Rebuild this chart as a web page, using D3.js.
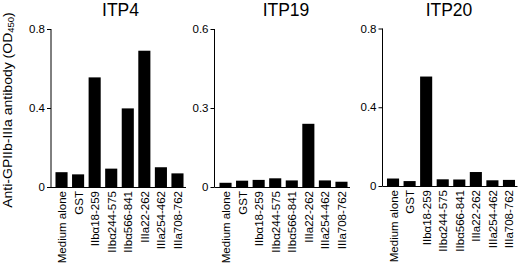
<!DOCTYPE html>
<html><head><meta charset="utf-8">
<script src="https://cdn.jsdelivr.net/npm/d3@7/dist/d3.min.js"></script>
<style>body{margin:0;background:#fff}svg{display:block}text{font-family:"Liberation Sans",Arial,sans-serif}</style>
</head><body>
<svg id="c" width="520" height="264"></svg>
<script>
const categories = ["Medium alone","GST","IIb\u03b118-259","IIb\u03b1244-575","IIb\u03b1566-841","IIIa22-262","IIIa254-462","IIIa708-762"];
const titles = ["ITP4","ITP19","ITP20"];
const itp4 = [0.075,0.064,0.555,0.093,0.398,0.69,0.10,0.069];
const itp19 = [0.016,0.024,0.027,0.033,0.025,0.24,0.025,0.02];
const itp20 = [0.038,0.025,0.556,0.034,0.033,0.071,0.029,0.031];
const yMax = [0.8,0.6,0.8];
const yTicks = [[0,0.4,0.8],[0,0.3,0.6],[0,0.4,0.8]];
const tickLabels = [["0","0.4","0.8"],["0","0.3","0.6"],["0","0.4","0.8"]];
const series = [itp4, itp19, itp20];

const svg = d3.select("#c");
const FF = '"Liberation Sans",Arial,sans-serif';
const layout = [
  {ax:51, r0:53, r1:186, top:29, base:187, tx:120.5},
  {ax:214.5, r0:217, r1:350, top:29, base:187, tx:286},
  {ax:382.5, r0:384.5, r1:517.5, top:28.5, base:186, tx:449}
];

series.forEach((vals,i)=>{
  const L = layout[i];
  const x = d3.scaleBand().domain(categories).range([L.r0, L.r1]).paddingInner(0.27).paddingOuter(0.15);
  const y = d3.scaleLinear().domain([0,yMax[i]]).range([L.base, L.top]);
  const g = svg.append("g");
  g.selectAll("rect").data(vals).join("rect")
    .attr("x",(d,j)=>x(categories[j])).attr("width",x.bandwidth())
    .attr("y",d=>y(d)).attr("height",d=>y(0)-y(d)).attr("fill","#000");
  const ya = g.append("g").attr("transform",`translate(${L.ax},0)`)
    .call(d3.axisLeft(y).tickValues(yTicks[i]).tickFormat((d,k)=>tickLabels[i][k]).tickSize(4).tickPadding(2).tickSizeOuter(0));
  ya.select(".domain").attr("d",`M0,${L.top}V${L.base}`).attr("stroke","#000");
  ya.selectAll("text").attr("font-size",11.5).attr("fill","#000").attr("font-family",FF);
  g.append("line").attr("x1",L.ax).attr("x2",L.r1).attr("y1",L.base+0.5).attr("y2",L.base+0.5).attr("stroke","#000");
  const xa = g.append("g").attr("transform",`translate(0,${L.base})`)
    .call(d3.axisBottom(x).tickSize(0).tickPadding(0));
  xa.select(".domain").remove();
  xa.selectAll("text").attr("font-size",11.5).attr("fill","#000").attr("font-family",FF)
    .attr("text-anchor","end").attr("dy",null).attr("y",0)
    .attr("transform",d=>`translate(4.5,4) rotate(-90)`).attr("x",0);
  g.append("text").attr("x",L.tx).attr("y",16).attr("text-anchor","middle").attr("font-size",17.5).text(titles[i]);
});

const yl = svg.append("text").attr("transform","translate(12,110) rotate(-90) scale(1.12,1)").attr("text-anchor","middle").attr("font-size",12.5);
yl.append("tspan").text("Anti-GPIIb-IIIa antibody (OD");
yl.append("tspan").attr("font-size",8.5).attr("dy",2).text("450");
yl.append("tspan").attr("dy",-2).text(")");
</script>
</body></html>
